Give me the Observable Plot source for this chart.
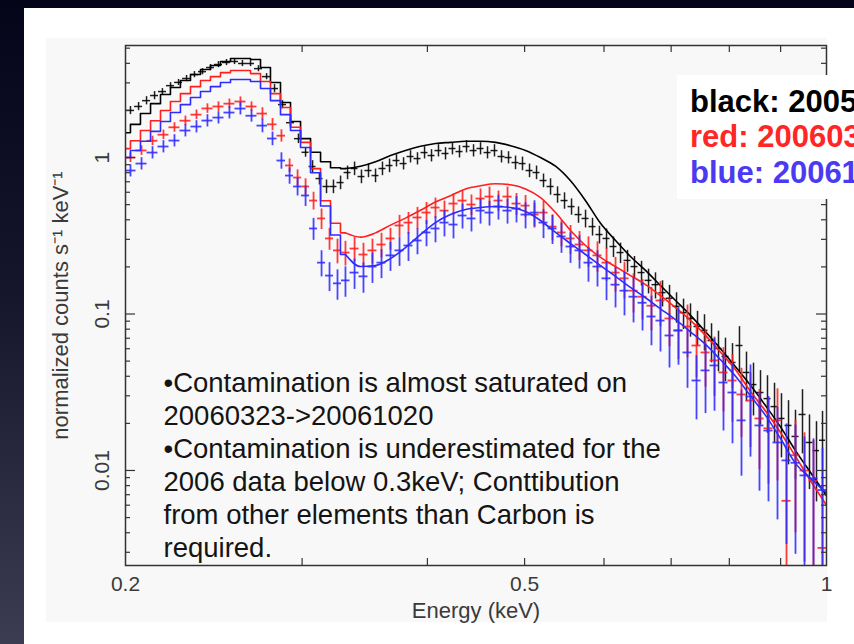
<!DOCTYPE html>
<html><head><meta charset="utf-8">
<script src="https://cdn.jsdelivr.net/npm/d3@7"></script>
<script src="https://cdn.jsdelivr.net/npm/@observablehq/plot@0.6"></script>
<style>
html,body{margin:0;padding:0;}
body{width:854px;height:644px;overflow:hidden;position:relative;background:linear-gradient(to bottom,#05051a 0%,#15152b 45%,#3b3b51 100%);font-family:"Liberation Sans",Arial,Helvetica,sans-serif;}
#panel{position:absolute;left:24px;top:8px;width:830px;height:636px;background:#ffffff;}
#fig{position:absolute;left:46px;top:38px;width:781px;height:584px;background:#f8f8f8;}
#chart{position:absolute;left:0;top:0;width:854px;height:644px;}
#legend{position:absolute;left:677px;top:75px;width:177px;height:124px;background:#ffffff;overflow:hidden;white-space:nowrap;font-weight:bold;font-size:31px;font-family:"Liberation Sans",Arial,Helvetica,sans-serif;}
#legend div{position:absolute;left:13px;line-height:31px;}
</style></head>
<body>
<div id="panel"></div>
<div id="fig"></div>
<div id="chart"></div>
<div id="legend"></div>
<script>
// ---------- axis ticks ----------
const xTickValues = [0.2, 0.5, 1];
const xTickLabels = ["0.2", "0.5", "1"];
const xMinorTicks = [0.3, 0.4, 0.5, 0.6, 0.7, 0.8, 0.9];
const yTickValues = [0.01, 0.1, 1];
const yTickLabels = ["0.01", "0.1", "1"];
const yMinorTicks = [0.003,0.004,0.005,0.006,0.007,0.008,0.009,0.02,0.03,0.04,0.05,0.06,0.07,0.08,0.09,0.2,0.3,0.4,0.5,0.6,0.7,0.8,0.9,2,3,4,5];

// ---------- legend ----------
const legendLabels = ["black: 2005", "red: 20060323", "blue: 20061020"];
const legendColors = ["#000000", "#ff2626", "#4a3af2"];

// ---------- model curves ----------
const modelE = [0.2000,0.2046,0.2094,0.2143,0.2192,0.2243,0.2295,0.2349,0.2403,0.2459,
0.2516,0.2575,0.2634,0.2696,0.2758,0.2822,0.2888,0.2955,0.3024,0.3094,
0.3166,0.3239,0.3314,
0.3431,0.3551,0.3675,0.3804,0.3937,0.4075,0.4218,0.4366,0.4519,0.4677,
0.4841,0.5011,0.5186,0.5368,0.5556,0.5751,0.5952,0.6161,0.6376,0.6600,
0.6831,0.7070,0.7318,0.7575,0.7840,0.8115,0.8399,0.8693,0.8998,0.9313,
0.9640,1.0000];
const blackModel = [1.44,1.63,1.91,2.21,2.53,2.80,3.11,3.39,3.65,3.87,
4.11,4.29,4.29,4.23,3.76,3.02,2.25,1.70,1.32,1.08,
0.94,0.86,0.85,
0.88,0.94,1.03,1.11,1.18,1.23,1.25,1.27,1.27,1.25,
1.19,1.11,1.00,0.88,0.71,0.53,0.38,0.295,0.233,0.190,
0.152,0.122,0.098,0.077,0.060,0.046,0.035,0.026,0.019,0.0134,
0.0097,0.0069];
const redModel = [1.14,1.28,1.49,1.72,2.00,2.28,2.56,2.84,3.11,3.29,
3.49,3.60,3.60,3.44,3.06,2.56,2.09,1.56,1.25,0.85,
0.53,0.38,0.33,
0.31,0.33,0.37,0.41,0.46,0.52,0.57,0.63,0.66,0.68,
0.67,0.63,0.555,0.445,0.342,0.274,0.230,0.201,0.176,0.154,
0.131,0.110,0.091,0.073,0.057,0.044,0.032,0.024,0.0175,0.0123,
0.0086,0.0060];
const blueModel = [1.00,1.11,1.27,1.47,1.70,1.94,2.18,2.42,2.64,2.84,
3.02,3.15,3.15,3.06,2.76,2.31,1.88,1.49,1.16,0.80,
0.49,0.32,0.24,
0.201,0.204,0.226,0.266,0.322,0.384,0.432,0.465,0.479,0.486,
0.479,0.452,0.396,0.332,0.282,0.240,0.204,0.174,0.148,0.127,
0.108,0.092,0.077,0.064,0.051,0.040,0.030,0.0225,0.016,0.0111,
0.0089,0.0072];

// ---------- black data (2005) ----------
const blackE = [0.2023,0.2061,0.2099,0.2138,0.2177,0.2218,0.2259,0.2301,0.2343,0.2387,
0.2431,0.2476,0.2522,0.2569,0.2616,0.2665,0.2714,0.2765,0.2816,0.2868,
0.2921,0.2975,
0.3024,0.3073,0.3122,0.3173,0.3224,0.3277,0.3330,0.3384,0.3438,0.3494,
0.3551,0.3608,0.3667,0.3726,0.3787,0.3848,0.3910,0.3974,0.4038,0.4103,
0.4170,0.4237,0.4306,0.4376,0.4447,0.4519,0.4592,0.4666,0.4742,0.4819,
0.4897,0.4976,0.5057,0.5139,0.5222,0.5307,0.5393,0.5480,0.5569,0.5659,
0.5751,0.5844,0.5938,0.6035,0.6132,0.6232,0.6333,0.6435,0.6540,0.6646,
0.6753,0.6863,0.6974,0.7087,0.7202,0.7318,0.7437,0.7557,0.7680,0.7804,
0.7930,0.8059,0.8189,0.8322,0.8457,0.8594,0.8733,0.8875,0.9018,0.9165,
0.9313,0.9464,0.9617,0.9773,0.9909];
const blackV = [2.00,2.12,2.31,2.49,2.64,2.88,3.02,3.20,3.39,3.54,
3.76,3.93,4.05,4.11,3.99,3.99,3.70,3.29,2.76,2.18,
1.67,1.32,
1.08,0.876,0.734,0.653,0.653,0.692,0.802,0.851,0.756,0.826,
0.767,0.851,0.889,0.957,0.915,1.015,0.985,1.076,1.03,1.108,
1.061,1.142,1.092,1.176,1.108,1.142,1.076,1.108,1.015,1.00,
0.929,0.915,0.826,0.802,0.713,0.653,0.580,0.531,0.486,0.432,
0.408,0.362,0.322,0.304,0.270,0.247,0.220,0.201,0.184,0.164,
0.154,0.137,0.126,0.112,0.102,0.0936,0.0832,0.0785,0.0677,0.0602,
0.0535,0.0490,0.0629,0.0423,0.0354,0.0315,0.0288,0.0256,0.0215,0.0194,
0.0165,0.0228,0.0151,0.0134,0.0156];
const blackErr = [0.06,0.06,0.06,0.06,0.045,0.045,0.045,0.045,0.045,0.045,
0.045,0.045,0.045,0.045,0.045,0.045,0.045,0.045,0.06,0.06,
0.06,0.07,
0.07,0.09,0.09,0.10,0.10,0.10,0.10,0.10,0.10,0.10,
0.10,0.10,0.10,0.09,0.09,0.09,0.09,0.09,0.09,0.09,
0.09,0.09,0.09,0.09,0.09,0.09,0.09,0.09,0.09,0.09,
0.10,0.10,0.10,0.10,0.10,0.12,0.12,0.12,0.12,0.12,
0.13,0.13,0.13,0.15,0.15,0.15,0.16,0.16,0.18,0.18,
0.19,0.19,0.21,0.22,0.22,0.24,0.25,0.26,0.28,0.29,
0.31,0.32,0.32,0.35,0.37,0.38,0.40,0.41,0.44,0.44,
0.47,0.44,0.50,0.53,0.53];

// ---------- red (20060323) and blue (20061020) data, shared energy bins ----------
const rbE = [0.2023,0.2075,0.2128,0.2182,0.2238,0.2295,0.2354,0.2414,0.2476,0.2539,
0.2604,0.2671,0.2739,
0.2803,0.2861,0.2915,0.2969,0.3024,0.3080,0.3137,0.3195,0.3254,0.3314,
0.3384,0.3454,0.3526,0.3600,0.3675,0.3752,0.3830,0.3910,0.3992,0.4075,
0.4160,0.4247,0.4336,0.4426,0.4519,0.4613,0.4709,0.4808,0.4908,0.5011,
0.5115,0.5222,0.5331,0.5442,0.5556,0.5672,0.5790,0.5911,0.6035,0.6161,
0.6289,0.6421,0.6555,0.6691,0.6831,0.6974,0.7119,0.7268,0.7420,0.7575,
0.7733,0.7894,0.8059,0.8227,0.8399,0.8574,0.8753,0.8936,0.9123,0.9313,
0.9508,0.9706,0.9909];
const redV = [1.00,1.11,1.28,1.40,1.56,1.72,1.88,2.06,2.12,2.21,
2.28,2.12,1.91,
1.63,1.38,0.89,0.745,0.653,0.531,0.408,0.304,0.255,0.247,
0.262,0.240,0.255,0.278,0.304,0.368,0.384,0.414,0.445,0.479,
0.458,0.508,0.531,0.501,0.547,0.563,0.531,0.563,0.508,0.493,
0.432,0.445,0.362,0.332,0.304,0.278,0.255,0.237,0.213,0.184,
0.169,0.141,0.129,0.113,0.122,0.0936,0.0785,0.0832,0.0629,0.0568,
0.0505,0.0423,0.0376,0.0306,0.0280,0.0215,0.0186,0.0209,0.0064,0.0125,
0.0100,0.0086,0.0032];
const redErr = [0.07,0.07,0.07,0.07,0.07,0.07,0.07,0.07,0.07,0.07,
0.07,0.07,0.09,
0.09,0.09,0.10,0.12,0.12,0.13,0.15,0.16,0.18,0.18,
0.18,0.18,0.18,0.18,0.16,0.16,0.16,0.16,0.16,0.15,
0.15,0.15,0.15,0.15,0.15,0.15,0.15,0.15,0.16,0.16,
0.18,0.18,0.19,0.19,0.21,0.21,0.22,0.22,0.24,0.25,
0.26,0.28,0.29,0.31,0.32,0.34,0.35,0.37,0.38,0.40,
0.41,0.44,0.46,0.47,0.50,0.53,0.56,0.59,1.2,0.68,
0.74,0.81,1.5];
const blueV = [0.826,0.915,1.076,1.176,1.284,1.488,1.578,1.723,1.801,1.939,
2.056,1.85,1.60,
1.323,0.957,0.767,0.653,0.572,0.352,0.213,0.176,0.157,0.164,
0.184,0.174,0.201,0.213,0.237,0.255,0.274,0.295,0.332,0.352,
0.384,0.373,0.426,0.408,0.458,0.445,0.486,0.458,0.472,0.432,
0.445,0.384,0.352,0.313,0.270,0.255,0.213,0.201,0.169,0.154,
0.141,0.129,0.118,0.0964,0.0908,0.0729,0.0785,0.0568,0.0376,0.0436,
0.0469,0.0365,0.0315,0.0209,0.0297,0.0194,0.0180,0.0151,0.0116,0.0112,
0.0093,0.0089,0.0075];
const blueErr = [0.09,0.09,0.09,0.09,0.09,0.09,0.09,0.09,0.09,0.09,
0.09,0.09,0.10,
0.10,0.12,0.12,0.13,0.15,0.16,0.19,0.21,0.22,0.22,
0.22,0.22,0.22,0.21,0.21,0.21,0.21,0.19,0.19,0.19,
0.19,0.19,0.18,0.18,0.18,0.18,0.18,0.18,0.19,0.19,
0.19,0.21,0.21,0.22,0.22,0.24,0.25,0.26,0.28,0.29,
0.31,0.32,0.34,0.35,0.37,0.38,0.40,0.41,0.44,0.47,
0.49,0.51,0.53,0.56,0.59,0.62,0.65,0.68,0.71,0.74,
0.76,0.79,0.85];

// ---------- annotation ----------
const noteLines = [
  "•Contamination is almost saturated on",
  "20060323->20061020",
  "•Contamination is underestimated for the",
  "2006 data below 0.3keV; Conttibution",
  "from other elements than Carbon is",
  "required."
];

// ---------- build tables ----------
function makePoints(E, V, F) {
  const n = E.length;
  return E.map((e, i) => {
    const lo = i > 0 ? Math.sqrt(E[i - 1] * e) : e * Math.sqrt(e / E[1]);
    const hi = i < n - 1 ? Math.sqrt(e * E[i + 1]) : e * Math.sqrt(e / E[n - 2]);
    const v = V[i], f = F[i];
    return {E: e, v, x1: lo, x2: hi, y1: Math.max(v * (1 - f), 1e-5), y2: v * (1 + f)};
  });
}
const makeModel = (E, V) => E.map((e, i) => ({E: e, v: V[i]}));
const STEP_END = 0.3314; // binned-looking part of the model (low energies)

const series = [
  {color: "#000000", w: 1.5, pts: makePoints(blackE, blackV, blackErr), model: makeModel(modelE, blackModel)},
  {color: "#ff1f1f", w: 1.8, pts: makePoints(rbE, redV, redErr), model: makeModel(modelE, redModel)},
  {color: "#2f2bff", w: 1.8, pts: makePoints(rbE, blueV, blueErr), model: makeModel(modelE, blueModel)}
];

const FONT = "Liberation Sans, Arial, Helvetica, sans-serif";
const frameW = 701, frameH = 520;
const seriesMarks = series.flatMap(s => [
  Plot.ruleX(s.pts, {x: "E", y1: "y1", y2: "y2", stroke: s.color, strokeWidth: s.w, strokeOpacity: 0.88, clip: true}),
  Plot.ruleY(s.pts, {y: "v", x1: "x1", x2: "x2", stroke: s.color, strokeWidth: s.w, strokeOpacity: 0.88, clip: true}),
  Plot.line(s.model.filter(d => d.E <= STEP_END), {x: "E", y: "v", curve: "step", stroke: s.color, strokeWidth: 1.6, clip: true}),
  Plot.line(s.model.filter(d => d.E >= STEP_END), {x: "E", y: "v", curve: "monotone-x", stroke: s.color, strokeWidth: 1.6, clip: true})
]);

const chart = Plot.plot({
  width: 854, height: 644,
  marginLeft: 125, marginRight: 28, marginTop: 45, marginBottom: 79,
  style: {background: "transparent", overflow: "visible", fontFamily: FONT},
  x: {type: "log", domain: [0.2, 1], axis: null},
  y: {type: "log", domain: [0.00247, 5.2], axis: null},
  marks: [
    ...seriesMarks,
    // x ticks (inward, bottom and top)
    Plot.ruleX(xMinorTicks, {x: d => d, insetTop: frameH - 7, stroke: "#333", strokeWidth: 1.2}),
    Plot.ruleX(xMinorTicks, {x: d => d, insetBottom: frameH - 7, stroke: "#333", strokeWidth: 1.2}),
    // y ticks (inward, left and right)
    Plot.ruleY(yMinorTicks, {y: d => d, insetRight: frameW - 5, stroke: "#333", strokeWidth: 1.2}),
    Plot.ruleY(yTickValues, {y: d => d, insetRight: frameW - 10, stroke: "#333", strokeWidth: 1.2}),
    Plot.ruleY(yMinorTicks, {y: d => d, insetLeft: frameW - 5, stroke: "#333", strokeWidth: 1.2}),
    Plot.ruleY(yTickValues, {y: d => d, insetLeft: frameW - 10, stroke: "#333", strokeWidth: 1.2}),
    Plot.frame({stroke: "#333", strokeWidth: 1.5}),
    // tick labels
    Plot.text(xTickValues, {x: d => d, text: (d, i) => xTickLabels[i], frameAnchor: "bottom", textAnchor: "middle", lineAnchor: "middle", dy: 19, fontSize: 21, fill: "#3a3a3a", fontFamily: FONT}),
    Plot.text(yTickValues, {y: d => d, text: (d, i) => yTickLabels[i], frameAnchor: "left", textAnchor: "middle", lineAnchor: "middle", dx: -23, rotate: -90, fontSize: 21, fill: "#3a3a3a", fontFamily: FONT}),
    // axis labels
    Plot.text(["Energy (keV)"], {text: d => d, frameAnchor: "bottom", textAnchor: "middle", lineAnchor: "middle", dy: 45, fontSize: 22, fill: "#3a3a3a", fontFamily: FONT}),
    Plot.text(["normalized counts s⁻¹ keV⁻¹"], {text: d => d, frameAnchor: "left", textAnchor: "middle", lineAnchor: "middle", dx: -65, rotate: -90, fontSize: 22, fill: "#3a3a3a", fontFamily: FONT}),
    // annotation
    Plot.text([noteLines.join("\n")], {text: d => d, frameAnchor: "left", textAnchor: "start", lineAnchor: "middle", dx: 38, dy: 158, fontSize: 27.5, lineHeight: 1.2, fill: "#141414", fontFamily: FONT})
  ]
});
document.getElementById("chart").appendChild(chart);

// legend box (cut at the page edge, as in the slide)
const legend = document.getElementById("legend");
const legendTops = [11, 46, 82];
legendLabels.forEach((t, i) => {
  const d = document.createElement("div");
  d.textContent = t;
  d.style.top = legendTops[i] + "px";
  d.style.color = legendColors[i];
  legend.appendChild(d);
});
</script>
</body></html>
